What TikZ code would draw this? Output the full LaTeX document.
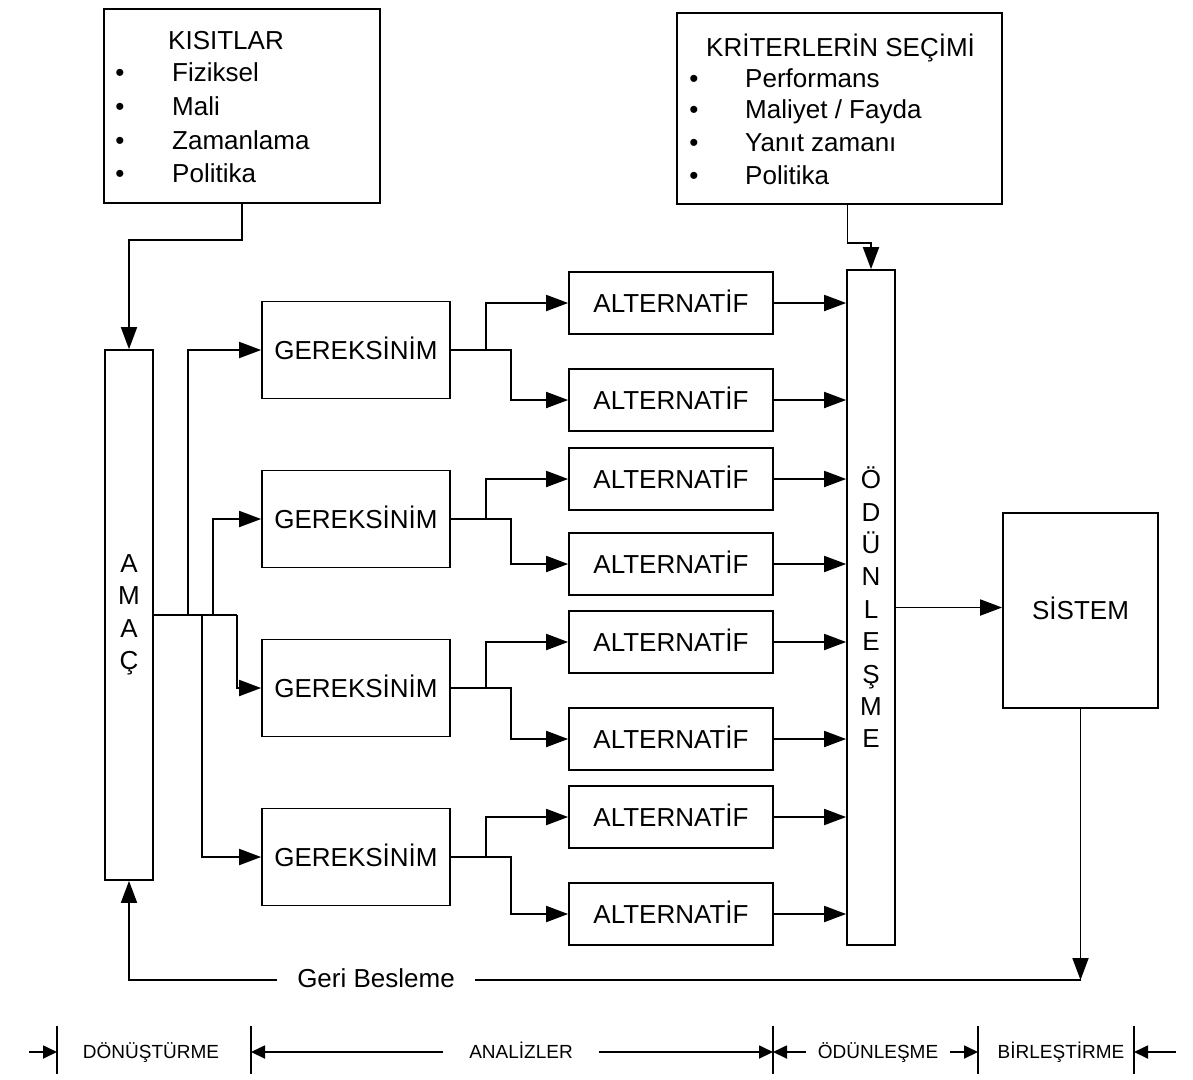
\documentclass[tikz,border=0pt]{standalone}
\usepackage{fontspec}
\setmainfont{Liberation Sans}
\usetikzlibrary{arrows.meta,calc}
\begin{document}
\begin{tikzpicture}[x=1pt,y=-1pt,
  every node/.append style={font=\fontsize{26}{32.4}\selectfont},
  box/.style={draw, line width=1.7pt, inner sep=0pt},
  capsbox/.style={box, text height=18.6pt, text depth=0pt},
  gerbox/.style={capsbox, minimum width=188pt, minimum height=97pt},
  altbox/.style={capsbox, minimum width=204pt, minimum height=62pt},
  lbl/.style={inner sep=0pt, anchor=base west},
  dot/.style={inner sep=0pt, anchor=base},
  arr/.style={line width=1.8pt, -{Triangle[length=22pt,width=16pt]}},
  wire/.style={line width=1.8pt},
  axis/.style={line width=1.8pt},
  axarr/.style={line width=1.8pt, -{Triangle[length=14pt,width=13pt]}},
  axlbl/.style={font=\fontsize{19}{22}\selectfont, inner sep=0pt, anchor=base},
]
\useasboundingbox (0,0) rectangle (1193,1079);

% constraints box
\node[box, minimum width=276pt, minimum height=194pt] (kis) at (242,106) {};
\node[lbl] (kisT) at (168,49) {KISITLAR};
\node[dot] (kb1) at (120,81.5) {•};
\node[dot] (kb2) at (120,115) {•};
\node[dot] (kb3) at (120,149) {•};
\node[dot] (kb4) at (120,182) {•};
\node[lbl] (ki1) at (172,81.5) {Fiziksel};
\node[lbl] (ki2) at (172,115) {Mali};
\node[lbl] (ki3) at (172,149) {Zamanlama};
\node[lbl] (ki4) at (172,182) {Politika};

% criteria box
\node[box, minimum width=325pt, minimum height=191pt] (krit) at (839.5,108.5) {};
\node[lbl] (kritT) at (706,56) {KRİTERLERİN SEÇİMİ};
\node[dot] (cb1) at (694,87) {•};
\node[dot] (cb2) at (694,118) {•};
\node[dot] (cb3) at (694,151) {•};
\node[dot] (cb4) at (694,184) {•};
\node[lbl] (ci1) at (745,87) {Performans};
\node[lbl] (ci2) at (745,118) {Maliyet / Fayda};
\node[lbl] (ci3) at (745,151) {Yanıt zamanı};
\node[lbl] (ci4) at (745,184) {Politika};

% goal column
\node[box, minimum width=48pt, minimum height=530pt, align=center] (amac) at (129,615) {A\\M\\A\\Ç};

% requirements
\node[gerbox] (g1) at (356,350) {GEREKSİNİM};
\node[gerbox] (g2) at (356,519) {GEREKSİNİM};
\node[gerbox] (g3) at (356,688) {GEREKSİNİM};
\node[gerbox] (g4) at (356,857) {GEREKSİNİM};

% alternatives
\node[altbox] (a1) at (671,303) {ALTERNATİF};
\node[altbox] (a2) at (671,400) {ALTERNATİF};
\node[altbox] (a3) at (671,479) {ALTERNATİF};
\node[altbox] (a4) at (671,564) {ALTERNATİF};
\node[altbox] (a5) at (671,642) {ALTERNATİF};
\node[altbox] (a6) at (671,739) {ALTERNATİF};
\node[altbox] (a7) at (671,817) {ALTERNATİF};
\node[altbox] (a8) at (671,914) {ALTERNATİF};

% trade-off column
\node[box, minimum width=48pt, minimum height=675pt, align=center] (odun) at (871,607.5) {Ö\\D\\Ü\\N\\L\\E\\Ş\\M\\E};

% system
\node[capsbox, minimum width=155pt, minimum height=195pt] (sis) at (1080.5,610.5) {SİSTEM};

% inputs from the top boxes
\draw[arr] (kis.south) -- ++(0,36) -| (amac.north);
\draw[arr] ([xshift=8pt]krit.south) -- ++(0,38) -| (odun.north);

% goal distribution
\coordinate (j1) at (188,615);
\coordinate (j2) at (213,615);
\coordinate (j4) at (202,615);
\coordinate (j3) at (237,615);
\draw[wire] (amac.east) -- (j3);
\draw[arr] (j1) |- (g1.west);
\draw[arr] (j2) |- (g2.west);
\draw[arr] (j3) |- (g3.west);
\draw[arr] (j4) |- (g4.west);

% requirements to alternatives
\foreach \g/\u/\d in {g1/a1/a2, g2/a3/a4, g3/a5/a6, g4/a7/a8} {
  \draw[arr] (\g.east) -- ++(35,0) |- (\u.west);
  \draw[arr] (\g.east) -- ++(60,0) |- (\d.west);
}

% alternatives to trade-off
\foreach \a in {a1,a2,a3,a4,a5,a6,a7,a8} {
  \draw[arr] (\a.east) -- (\a.east -| odun.west);
}

% trade-off to system
\draw[arr] (odun.east) -- (odun.east -| sis.west);

% feedback loop
\coordinate (fb) at (1080.5,980);
\node[anchor=base, inner xsep=20pt, inner ysep=0pt] (gb) at (376,987) {Geri Besleme};
\draw[arr] (sis.south) -- (fb);
\draw[wire] (fb) -- (gb.east |- fb);
\draw[arr] (gb.west |- fb) -| (amac.south);

% phase axis
\coordinate (m1) at (57,1052);
\coordinate (m2) at (251,1052);
\coordinate (m3) at (773,1052);
\coordinate (m4) at (978,1052);
\coordinate (m5) at (1134,1052);
\foreach \m in {m1,m2,m3,m4,m5} {
  \draw[axis] (\m) ++(0,-26) -- ++(0,48);
}
\coordinate (s1) at (29,1052);
\coordinate (s5) at (1176,1052);
\node[axlbl] (ldon) at (151,1058) {DÖNÜŞTÜRME};
\node[axlbl, inner xsep=26pt] (lana) at (521,1058) {ANALİZLER};
\node[axlbl, inner xsep=12pt] (lodu) at (878,1058) {ÖDÜNLEŞME};
\node[axlbl] (lbir) at (1061,1058) {BİRLEŞTİRME};
\draw[axarr] (s1) -- (m1);
\draw[axarr] (lana.west |- m2) -- (m2);
\draw[axarr] (lana.east |- m3) -- (m3);
\draw[axarr] (lodu.west |- m3) -- (m3);
\draw[axarr] (lodu.east |- m4) -- (m4);
\draw[axarr] (s5) -- (m5);
\end{tikzpicture}
\end{document}
